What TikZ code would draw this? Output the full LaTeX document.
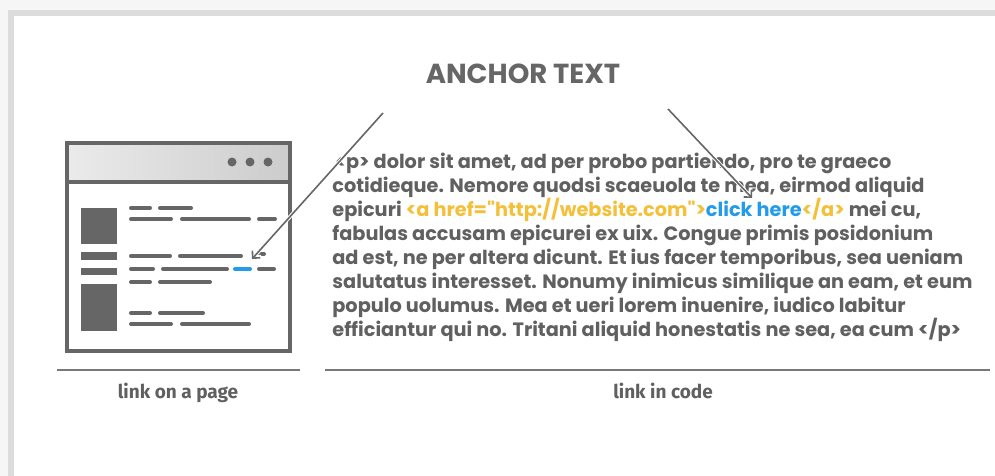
\documentclass[tikz,border=0pt]{standalone}
\usepackage{fontspec}
\usepackage{tikz}
\usetikzlibrary{arrows.meta}
\newfontfamily\codefont{Poppins}
\newfontfamily\labelfont{Fira Sans}
\tikzset{every picture/.style={line width=0.75pt}}
\definecolor{pagegray}{RGB}{102,102,102}
\definecolor{codegray}{RGB}{96,96,96}
\definecolor{framegray}{RGB}{220,220,220}
\definecolor{framebg}{RGB}{246,246,246}
\definecolor{tagyellow}{RGB}{244,192,58}
\definecolor{linkblue}{RGB}{34,156,232}
\definecolor{rulegray}{RGB}{120,120,120}

\begin{document}
\begin{tikzpicture}[
    x=1pt, y=1pt,
    bar/.style={line width=4pt, line cap=round, draw=pagegray},
    block/.style={fill=pagegray},
    codeline/.style={anchor=base west, inner sep=0pt, text=codegray,
        font=\codefont\bfseries\fontsize{19.3}{22}\selectfont},
    caption/.style={anchor=base, inner sep=0pt, text=codegray,
        font=\labelfont\bfseries\fontsize{19}{22}\selectfont},
    pointer/.style={draw=pagegray, line width=1.6pt,
        -{Straight Barb[angle=90:7.5pt]},
        preaction={draw=white, line width=3.6pt}},
]

\def\L{24}    % line pitch of the code text
\def\T{168}   % baseline of the first code line

%% ===================== FRAME =====================
\fill[framebg] (0,0) rectangle (995,-476);
\fill[framegray] (8,-10) rectangle (995,-476);
\fill[white] (14,-16) rectangle (995,-476);
\useasboundingbox (0,0) rectangle (995,-476);

%% ===================== PAGE SKETCH =====================
% browser header
\shade[left color=gray!16, right color=gray!40] (67,-143) rectangle (290,-182);
\foreach \x in {232,250,268} {
  \fill[pagegray] (\x,-162) circle (4.5);
}
\draw[pagegray, line width=4pt] (67,-143) rectangle (290,-351);
\draw[pagegray, line width=4pt] (67,-182) -- (290,-182);

% image blocks and short bars on the left
\fill[block] (81,-208) rectangle (117,-244);
\fill[block] (81,-252) rectangle (117,-260);
\fill[block] (81,-268) rectangle (117,-275);
\fill[block] (81,-284) rectangle (117,-331);

% text lines
\foreach \y/\a/\b in {208/131/150, 208/160/191,
                      219/131/171, 219/182/249, 219/259/275,
                      256/131/170, 256/180/241, 254/259/264,
                      269/131/153, 269/163/227, 269/259/274,
                      282/131/150, 282/160/210,
                      313/131/150, 313/160/203,
                      324/131/171, 324/182/249} {
  \draw[bar] (\a,-\y) -- (\b,-\y);
}
% the link in the page
\draw[bar, draw=linkblue] (235,-269) -- (250,-269);

%% ===================== CODE TEXT =====================
\node[codeline] (c1) at (335,-\T) {<p> dolor sit amet, ad per probo partiendo, pro te graeco};
\node[codeline] (c2) at (332,-\T-\L) {cotidieque. Nemore quodsi scaeuola te mea, eirmod aliquid};
\node[codeline] (c3) at (332,-\T-2*\L) {epicuri \textcolor{tagyellow}{<a href="http://website.com">}\textcolor{linkblue}{click here}\textcolor{tagyellow}{</a>} mei cu,};
\node[codeline] (c4) at (332,-\T-3*\L) {fabulas accusam epicurei ex uix. Congue primis posidonium};
\node[codeline] (c5) at (332,-\T-4*\L) {ad est, ne per altera dicunt. Et ius facer temporibus, sea ueniam};
\node[codeline] (c6) at (332,-\T-5*\L) {salutatus interesset. Nonumy inimicus similique an eam, et eum};
\node[codeline] (c7) at (332,-\T-6*\L) {populo uolumus. Mea et ueri lorem inuenire, iudico labitur};
\node[codeline] (c8) at (332,-\T-7*\L) {efficiantur qui no. Tritani aliquid honestatis ne sea, ea cum </p>};

%% ===================== TITLE AND POINTERS =====================
\node[anchor=base, inner sep=0pt, text=pagegray,
      font=\codefont\bfseries\fontsize{27.5}{30}\selectfont] (title) at (523,-84) {ANCHOR TEXT};

\coordinate (p1s) at (383,-113);
\coordinate (p1e) at (252,-259);
\coordinate (p2s) at (668,-109);
\coordinate (p2e) at (752,-198);
\draw[pointer] (p1s) -- (p1e);
\draw[pointer] (p2s) -- (p2e);

%% ===================== CAPTIONS =====================
\draw[rulegray, line width=2pt] (57,-370) -- (300,-370);
\draw[rulegray, line width=2pt] (325,-370) -- (990,-370);
\node[caption] (cap1) at (178,-398) {link on a page};
\node[caption] (cap2) at (663,-398) {link in code};

\end{tikzpicture}
\end{document}
